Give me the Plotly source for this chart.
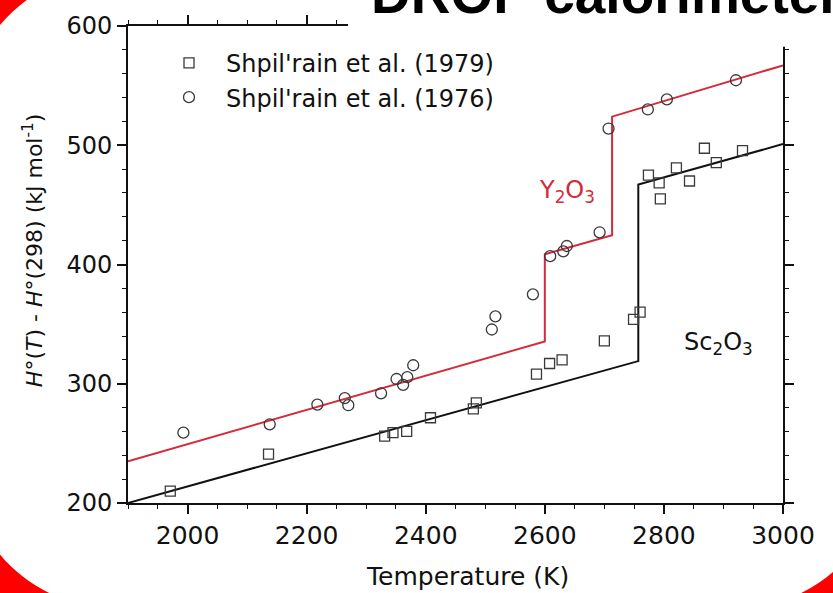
import plotly.graph_objects as go

# ---------------- data ----------------
# Shpil'rain et al. (1979) - squares (Sc2O3)
sq_T = [1971, 2136, 2331, 2345, 2368, 2408, 2480, 2485, 2586, 2608, 2629, 2700,
        2749, 2760, 2774, 2792, 2794, 2821, 2843, 2868, 2888, 2932]
sq_H = [210, 241, 256, 259, 260, 271.5, 279, 284, 308, 317, 320, 336,
        354, 360, 475, 468.5, 455, 481, 470, 497.5, 485.5, 495.5]
# Shpil'rain et al. (1976) - circles (Y2O3)
ci_T = [1993, 2138, 2218, 2264, 2270, 2325, 2351, 2362, 2369, 2379, 2511,
        2517, 2580, 2609, 2631, 2637, 2692, 2707, 2773, 2805, 2921]
ci_H = [259, 266, 282.5, 288, 282, 292, 304, 299, 305.5, 315.5, 345.5,
        356.5, 375, 407, 411, 415.5, 427, 514, 530, 538.5, 554.5]
# assessed curves
y2o3_T = [1900, 2600, 2600, 2713, 2713, 3000]
y2o3_H = [235, 335.5, 408.5, 424.5, 524, 567]
sc2o3_T = [1900, 2757, 2757, 3000]
sc2o3_H = [200, 319, 467, 501]

x_ticks = [2000, 2200, 2400, 2600, 2800, 3000]
y_ticks = [200, 300, 400, 500, 600]

# ---------------- geometry helpers (pixel -> paper) ----------------
W, H = 833, 593
ML, MR, MT, MB = 128, 50, 21, 90
PW, PH = W - ML - MR, H - MT - MB


def px(x):
    return (x - ML) / PW


def py(y):
    return (H - MB - y) / PH


FONT = "DejaVu Sans"
RED = "#d42a3a"
MK = "#3a3a3a"

fig = go.Figure()

fig.add_trace(go.Scatter(x=y2o3_T, y=y2o3_H, mode="lines",
                         line=dict(color=RED, width=2), showlegend=False,
                         hoverinfo="skip"))
fig.add_trace(go.Scatter(x=sc2o3_T, y=sc2o3_H, mode="lines",
                         line=dict(color="#111111", width=2), showlegend=False,
                         hoverinfo="skip"))
fig.add_trace(go.Scatter(x=sq_T, y=sq_H, mode="markers",
                         name="Shpil'rain et al. (1979)",
                         marker=dict(symbol="square-open", size=10, color=MK,
                                     line=dict(width=1.3, color=MK))))
fig.add_trace(go.Scatter(x=ci_T, y=ci_H, mode="markers",
                         name="Shpil'rain et al. (1976)",
                         marker=dict(symbol="circle-open", size=11, color=MK,
                                     line=dict(width=1.3, color=MK))))

# red rounded slide frame: filled region between outer box and inner rounded rect
cx0, cx1, cy0, cy1, R = 115.6, 734.8, 115.6, 459.4, 150
k = 0.5523 * R


def P(x, y):
    return f"{px(x):.5f},{py(y):.5f}"


outer = (f"M {P(-150, -150)} L {P(W + 150, -150)} L {P(W + 150, H + 150)} "
         f"L {P(-150, H + 150)} Z ")
inner = (f"M {P(cx0-R, cy0)} L {P(cx0-R, cy1)} "
         f"C {P(cx0-R, cy1+k)} {P(cx0-k, cy1+R)} {P(cx0, cy1+R)} "
         f"L {P(cx1, cy1+R)} "
         f"C {P(cx1+k, cy1+R)} {P(cx1+R, cy1+k)} {P(cx1+R, cy1)} "
         f"L {P(cx1+R, cy0)} "
         f"C {P(cx1+R, cy0-k)} {P(cx1+k, cy0-R)} {P(cx1, cy0-R)} "
         f"L {P(cx0, cy0-R)} "
         f"C {P(cx0-k, cy0-R)} {P(cx0-R, cy0-k)} {P(cx0-R, cy0)} Z")

shapes = [
    dict(type="path", xref="paper", yref="paper", path=outer + inner,
         fillcolor="#ff0000", fillrule="evenodd", line=dict(width=0),
         layer="above"),
    dict(type="rect", xref="paper", yref="paper",
         x0=px(348), x1=px(900), y0=py(-60), y1=py(42),
         fillcolor="white", line=dict(width=0), layer="above"),
]

annotations = [
    dict(text="<b>DROP calorimeter</b>", xref="paper", yref="paper",
         x=px(369), y=py(-11), xanchor="left", yanchor="middle",
         showarrow=False, font=dict(family="Liberation Sans", size=55,
                                    color="black")),
    dict(text="Y<sub>2</sub>O<sub>3</sub>", x=2637, y=461, xref="x", yref="y",
         showarrow=False, font=dict(family=FONT, size=24, color=RED)),
    dict(text="Sc<sub>2</sub>O<sub>3</sub>", x=2892, y=334, xref="x", yref="y",
         showarrow=False, font=dict(family=FONT, size=24, color="#111111")),
    dict(text="Temperature (K)", xref="paper", yref="paper",
         x=px(467), y=py(577), xanchor="center", yanchor="middle",
         showarrow=False, font=dict(family=FONT, size=25, color="#111111")),
    dict(text="<i>H</i>°(<i>T</i>) - <i>H</i>°(298) (kJ mol<sup>-1</sup>)",
         xref="paper", yref="paper", x=px(33), y=py(247.5),
         xanchor="center", yanchor="middle", textangle=-90,
         showarrow=False, font=dict(family=FONT, size=22, color="#111111")),
]

axis_common = dict(showline=True, linecolor="#111111", linewidth=2,
                   ticks="outside", tickcolor="#111111", tickwidth=1.5,
                   ticklen=9, mirror="ticks", showgrid=False, zeroline=False,
                   color="#111111")

fig.update_layout(
    width=W, height=H,
    margin=dict(l=ML, r=MR, t=MT, b=MB),
    paper_bgcolor="white", plot_bgcolor="white",
    font=dict(family=FONT, color="#111111"),
    xaxis=dict(range=[1900, 3000], tickvals=x_ticks,
               tickfont=dict(family=FONT, size=25),
               minor=dict(dtick=50, ticks="outside", ticklen=4,
                          tickwidth=1.2, tickcolor="#111111"),
               **axis_common),
    yaxis=dict(range=[200, 600], tickvals=y_ticks,
               tickfont=dict(family=FONT, size=24),
               minor=dict(dtick=20, ticks="outside", ticklen=4,
                          tickwidth=1.2, tickcolor="#111111"),
               **axis_common),
    legend=dict(x=px(152), y=py(36), xanchor="left", yanchor="top",
                bgcolor="rgba(0,0,0,0)", font=dict(family=FONT, size=24,
                                                   color="#111111"),
                itemwidth=64, tracegroupgap=0),
    shapes=shapes,
    annotations=annotations,
    showlegend=True,
)

fig.write_html("out.html")
